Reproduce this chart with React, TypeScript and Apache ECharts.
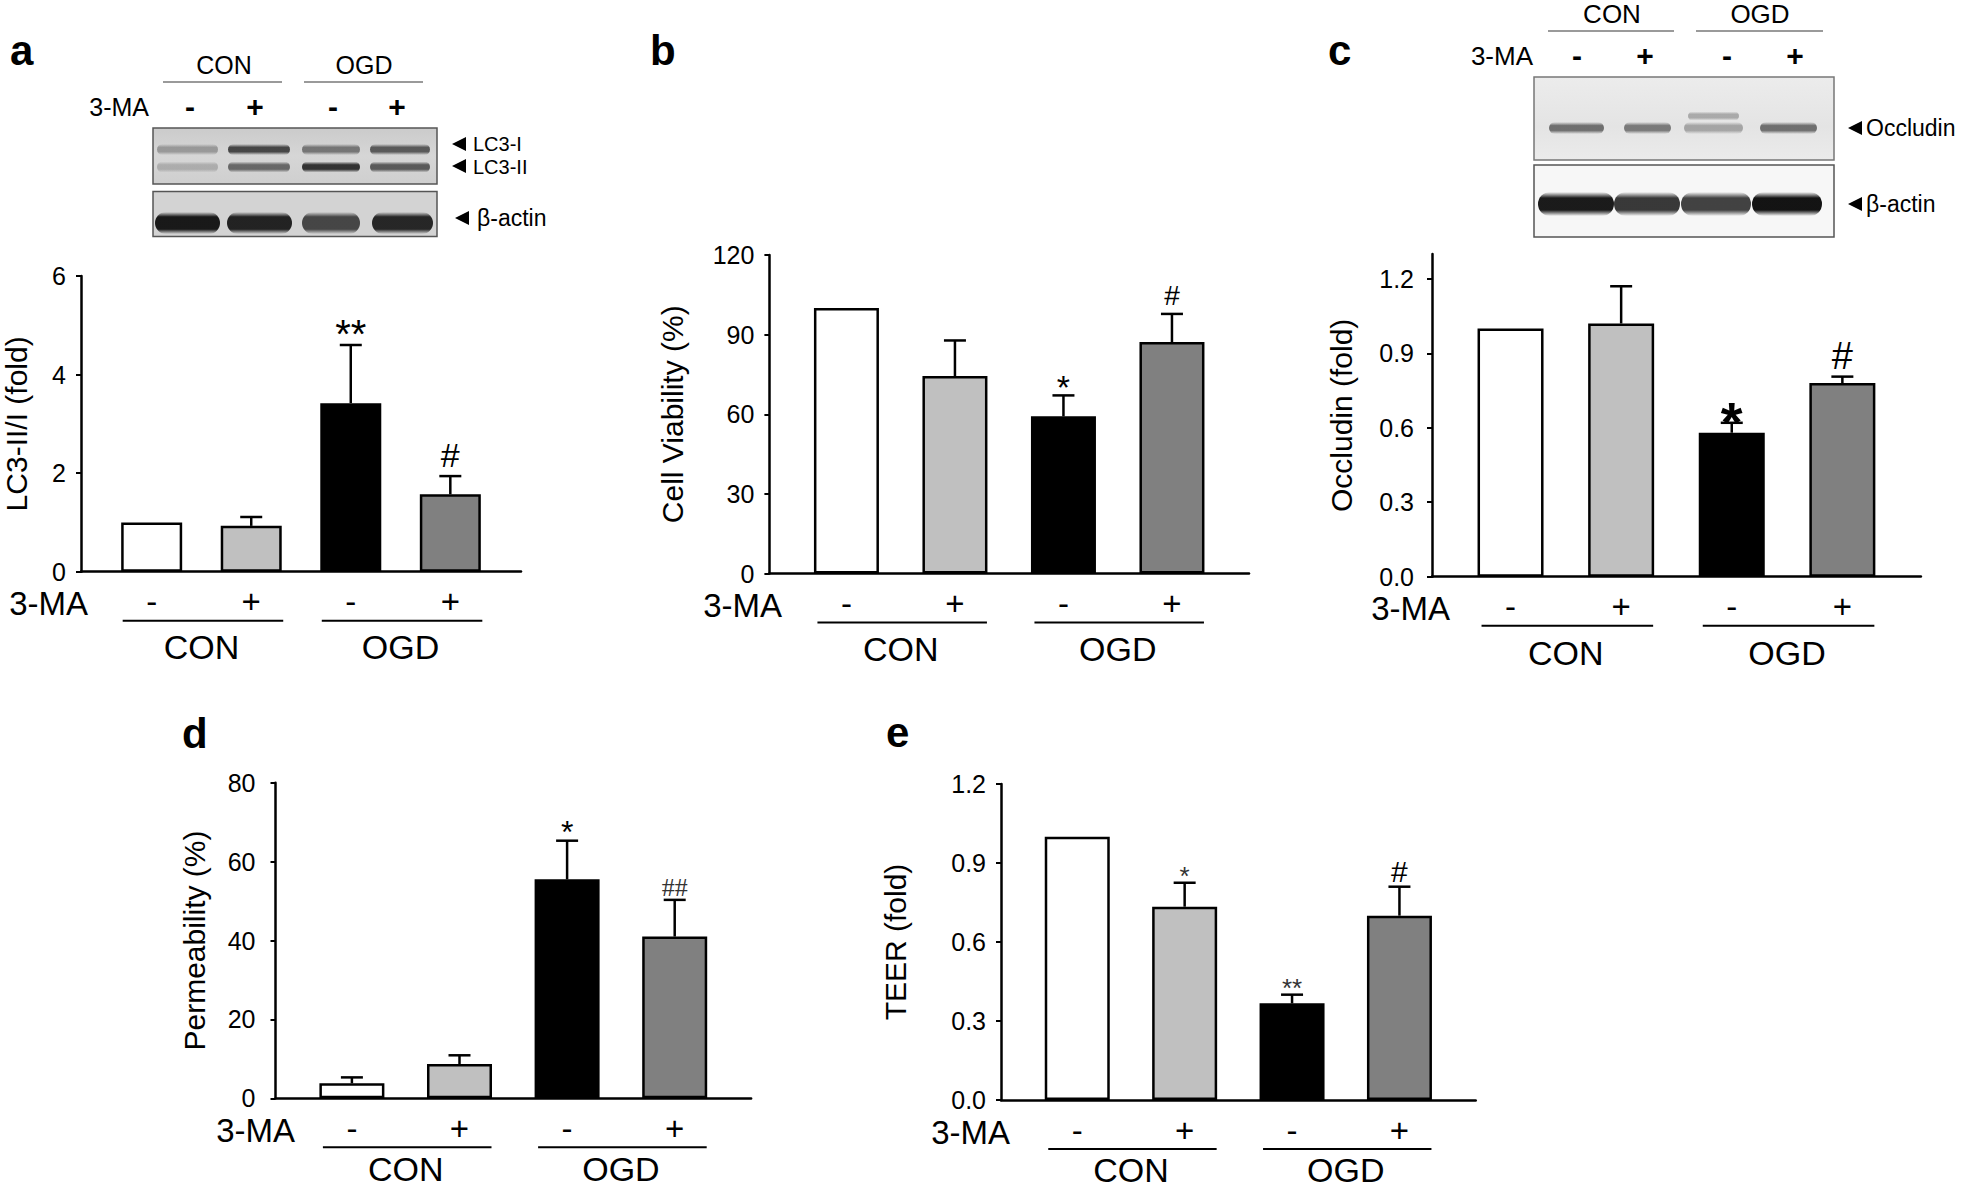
import React, { useEffect, useRef } from 'react';
import * as echarts from 'echarts';

const FONT = '"Liberation Sans", Arial, Helvetica, sans-serif';
const SERIF = '"Liberation Serif", "Times New Roman", serif';

// ---- shared categories ----
const X_POS = [1, 2, 3, 4];
const TREATMENT = ['-', '+', '-', '+'];
const GROUPS = ['CON', 'OGD'];
const GROUP_MEMBERS = [[1, 2], [3, 4]];
const BAR_FILL = ['#ffffff', '#c0c0c0', '#000000', '#808080'];

// ---- a: LC3-II/I ----
const LC3_VALUES = [1.0, 0.93, 3.42, 1.57];
const LC3_ERR_TOP = [null, 1.11, 4.6, 1.94];
const LC3_MARKS = ['', '', '**', '#'];
const LC3_TICKS = [0, 2, 4, 6];

// ---- b: Cell viability ----
const VIAB_VALUES = [100, 74.4, 59.2, 87.2];
const VIAB_ERR_TOP = [null, 87.8, 67.1, 97.8];
const VIAB_MARKS = ['', '', '*', '#'];
const VIAB_TICKS = [0, 30, 60, 90, 120];

// ---- c: Occludin ----
const OCC_VALUES = [1.0, 1.02, 0.58, 0.78];
const OCC_ERR_TOP = [null, 1.17, 0.62, 0.806];
const OCC_MARKS = ['', '', '*', '#'];
const OCC_TICKS = [0, 0.3, 0.6, 0.9, 1.2];

// ---- d: Permeability ----
const PERM_VALUES = [3.8, 8.7, 55.5, 41.0];
const PERM_ERR_TOP = [5.3, 10.9, 65.3, 50.3];
const PERM_MARKS = ['', '', '*', '##'];
const PERM_TICKS = [0, 20, 40, 60, 80];

// ---- e: TEER ----
const TEER_VALUES = [1.0, 0.734, 0.367, 0.7];
const TEER_ERR_TOP = [null, 0.825, 0.4, 0.81];
const TEER_MARKS = ['', '*', '**', '#'];
const TEER_TICKS = [0, 0.3, 0.6, 0.9, 1.2];

// ---- western blot band darkness (0..1) per lane ----
const LC3I_BAND = [0.3, 0.72, 0.48, 0.62];
const LC3II_BAND = [0.2, 0.55, 0.82, 0.62];
const ACTIN_A_BAND = [0.95, 0.9, 0.72, 0.88];
const OCC_BAND = [0.55, 0.5, 0.3, 0.55];
const OCC_UPPER_BAND = [0, 0, 0.28, 0];
const ACTIN_C_BAND = [0.95, 0.82, 0.78, 0.98];

const X_MIN = 0.29;
const X_MAX = 4.71;

type MarkStyle = { size: number; family: string; weight: string; color: string; gap: number };

const ms = (size: number, gap: number, extra: Partial<MarkStyle> = {}): MarkStyle => ({
  size,
  gap,
  family: FONT,
  weight: 'normal',
  color: '#000',
  ...extra,
});

const PANELS = [
  {
    letter: 'a', letterX: 10, letterY: 50,
    values: LC3_VALUES, errTop: LC3_ERR_TOP, marks: LC3_MARKS, ticks: LC3_TICKS,
    max: 6, decimals: 0, yName: 'LC3-II/I (fold)',
    grid: { left: 80, top: 276, width: 441, height: 295.7 },
    barWidth: 61, nameGap: 50, labelMargin: 15, maRight: 88, groupDy: 75,
    markStyle: [null, null, ms(40, 20), ms(34, 21)],
  },
  {
    letter: 'b', letterX: 650, letterY: 50,
    values: VIAB_VALUES, errTop: VIAB_ERR_TOP, marks: VIAB_MARKS, ticks: VIAB_TICKS,
    max: 120, decimals: 0, yName: 'Cell Viability (%)',
    grid: { left: 769.4, top: 255, width: 479.6, height: 318.5 },
    barWidth: 65, nameGap: 82, labelMargin: 15, maRight: 782, groupDy: 75,
    markStyle: [null, null, ms(34, 16), ms(28, 18)],
  },
  {
    letter: 'c', letterX: 1328, letterY: 50,
    values: OCC_VALUES, errTop: OCC_ERR_TOP, marks: OCC_MARKS, ticks: OCC_TICKS,
    max: 1.3, decimals: 1, yName: 'Occludin (fold)',
    grid: { left: 1432, top: 254, width: 488.9, height: 322.7 },
    barWidth: 66, nameGap: 76, labelMargin: 18, maRight: 1450, groupDy: 76,
    markStyle: [null, null, ms(56, 14, { weight: 'bold' }), ms(38, 21)],
  },
  {
    letter: 'd', letterX: 182, letterY: 733,
    values: PERM_VALUES, errTop: PERM_ERR_TOP, marks: PERM_MARKS, ticks: PERM_TICKS,
    max: 80, decimals: 0, yName: 'Permeability (%)',
    grid: { left: 275.5, top: 782.7, width: 475.6, height: 315.6 },
    barWidth: 65, nameGap: 66, labelMargin: 20, maRight: 295, groupDy: 71,
    markStyle: [null, null, ms(32, 16), ms(26, 12, { family: SERIF, color: '#333' })],
  },
  {
    letter: 'e', letterX: 886, letterY: 732,
    values: TEER_VALUES, errTop: TEER_ERR_TOP, marks: TEER_MARKS, ticks: TEER_TICKS,
    max: 1.2, decimals: 1, yName: 'TEER (fold)',
    grid: { left: 1001, top: 784, width: 474.7, height: 316 },
    barWidth: 65, nameGap: 91, labelMargin: 15, maRight: 1010, groupDy: 70,
    markStyle: [null, ms(26, 13, { color: '#333' }), ms(26, 13, { color: '#333' }), ms(30, 15)],
  },
];

const CAP_HALF = 11;

function band(x1: number, x2: number, cy: number, h: number, d: number, core = 0.3) {
  const a = Math.max(0, Math.min(1, d));
  return {
    type: 'rect',
    shape: { x: x1, y: cy - h / 2, width: x2 - x1, height: h, r: h / 2 },
    style: {
      fill: new echarts.graphic.LinearGradient(0, 0, 0, 1, [
        { offset: 0, color: 'rgba(15,15,15,0)' },
        { offset: core, color: `rgba(15,15,15,${a})` },
        { offset: 1 - core, color: `rgba(15,15,15,${a})` },
        { offset: 1, color: 'rgba(15,15,15,0)' },
      ]),
    },
    silent: true,
  };
}

function txt(x: number, y: number, text: string, size: number, extra: any = {}) {
  return {
    type: 'text',
    x,
    y,
    silent: true,
    style: {
      text,
      fontSize: size,
      fontFamily: FONT,
      fill: '#000',
      align: 'center',
      verticalAlign: 'middle',
      ...extra,
    },
  };
}

function hline(x1: number, x2: number, y: number, color = '#000', w = 2) {
  return { type: 'line', silent: true, shape: { x1, y1: y, x2, y2: y }, style: { stroke: color, lineWidth: w } };
}

function arrow(tipX: number, y: number) {
  return {
    type: 'polygon',
    silent: true,
    shape: { points: [[tipX, y], [tipX + 14, y - 7], [tipX + 14, y + 7]] },
    style: { fill: '#000' },
  };
}

function blotGraphics() {
  const g: any[] = [];
  // ---- panel a header ----
  g.push(txt(224, 65, GROUPS[0], 25));
  g.push(txt(364, 65, GROUPS[1], 25));
  g.push(hline(163, 282, 82, '#9a9a9a', 2));
  g.push(hline(304, 423, 82, '#9a9a9a', 2));
  g.push(txt(149, 107, '3-MA', 25, { align: 'right' }));
  [190, 255, 333, 397].forEach((x, i) => g.push(txt(x, 106, TREATMENT[i], 30, { fontWeight: 'bold' })));
  g.push({
    type: 'rect', silent: true,
    shape: { x: 153, y: 128, width: 284, height: 56 },
    style: {
      fill: new echarts.graphic.LinearGradient(0, 0, 0, 1, [
        { offset: 0, color: '#cbcbcb' },
        { offset: 0.5, color: '#d6d6d6' },
        { offset: 1, color: '#cfcfcf' },
      ]),
      stroke: '#555', lineWidth: 1.5,
    },
  });
  const lanesA = [[157, 218], [228, 290], [302, 360], [370, 430]];
  lanesA.forEach(([x1, x2], i) => {
    g.push(band(x1, x2, 149.5, 11, LC3I_BAND[i]));
    g.push(band(x1, x2, 167, 11, LC3II_BAND[i]));
  });
  g.push({
    type: 'rect', silent: true,
    shape: { x: 153, y: 191.5, width: 284, height: 45 },
    style: { fill: '#d3d3d3', stroke: '#555', lineWidth: 1.5 },
  });
  const actinLanesA = [[155, 220], [227, 292], [302, 360], [372, 433]];
  actinLanesA.forEach(([x1, x2], i) => g.push(band(x1, x2, 223, 22, ACTIN_A_BAND[i], 0.22)));
  g.push(arrow(452, 144));
  g.push(txt(473, 144, 'LC3-I', 20, { align: 'left', lineHeight: 18 }));
  g.push(arrow(452, 166));
  g.push(txt(473, 167, 'LC3-II', 20, { align: 'left', lineHeight: 18 }));
  g.push(arrow(455, 218));
  g.push(txt(477, 218, 'β-actin', 23, { align: 'left' }));

  // ---- panel c header ----
  g.push(txt(1612, 14, GROUPS[0], 26));
  g.push(txt(1760, 14, GROUPS[1], 26));
  g.push(hline(1548, 1674, 31, '#9a9a9a', 2));
  g.push(hline(1696, 1823, 31, '#9a9a9a', 2));
  g.push(txt(1533, 56, '3-MA', 26, { align: 'right' }));
  [1577, 1645, 1727, 1795].forEach((x, i) => g.push(txt(x, 55, TREATMENT[i], 30, { fontWeight: 'bold' })));
  g.push({
    type: 'rect', silent: true,
    shape: { x: 1534, y: 77, width: 300, height: 83 },
    style: {
      fill: new echarts.graphic.LinearGradient(0, 0, 0, 1, [
        { offset: 0, color: '#ececec' },
        { offset: 0.6, color: '#e4e4e4' },
        { offset: 1, color: '#ebebeb' },
      ]),
      stroke: '#777', lineWidth: 1.5,
    },
  });
  const lanesC = [[1549, 1604], [1624, 1671], [1684, 1743], [1760, 1817]];
  lanesC.forEach(([x1, x2], i) => {
    g.push(band(x1, x2, 128, 12, OCC_BAND[i]));
    if (OCC_UPPER_BAND[i] > 0) g.push(band(x1 + 4, x2 - 4, 116, 9, OCC_UPPER_BAND[i]));
  });
  g.push({
    type: 'rect', silent: true,
    shape: { x: 1534, y: 165, width: 300, height: 72 },
    style: { fill: '#f7f7f7', stroke: '#555', lineWidth: 1.5 },
  });
  const actinLanesC = [[1538, 1614], [1614, 1680], [1681, 1751], [1752, 1822]];
  actinLanesC.forEach(([x1, x2], i) => g.push(band(x1, x2, 204, 24, ACTIN_C_BAND[i], 0.25)));
  g.push(arrow(1848, 128));
  g.push(txt(1866, 128, 'Occludin', 23, { align: 'left' }));
  g.push(arrow(1848, 204));
  g.push(txt(1866, 204, 'β-actin', 23, { align: 'left' }));
  return g;
}

function buildOption() {
  const grid = PANELS.map((p) => ({ ...p.grid, containLabel: false }));
  const xAxis = PANELS.map((p, i) => ({
    type: 'value',
    gridIndex: i,
    min: X_MIN,
    max: X_MAX,
    splitLine: { show: false },
    axisTick: { show: false },
    axisLine: { show: true, onZero: false, lineStyle: { color: '#000', width: 2.5 } },
    axisLabel: {
      customValues: X_POS,
      formatter: (v: number) => TREATMENT[Math.round(v) - 1] ?? '',
      fontSize: 33,
      lineHeight: 28,
      fontFamily: FONT,
      color: '#000',
      margin: 16,
    },
  }));
  const yAxis = PANELS.map((p, i) => ({
    type: 'value',
    gridIndex: i,
    min: 0,
    max: p.max,
    interval: p.ticks[1] - p.ticks[0],
    splitLine: { show: false },
    axisLine: { show: true, lineStyle: { color: '#000', width: 2.5 } },
    axisTick: { show: true, length: 5, customValues: p.ticks, lineStyle: { color: '#000', width: 2 } },
    axisLabel: {
      customValues: p.ticks,
      formatter: (v: number) => v.toFixed(p.decimals),
      fontSize: 25,
      lineHeight: 22,
      fontFamily: FONT,
      color: '#000',
      margin: p.labelMargin,
    },
    name: p.yName,
    nameLocation: 'middle',
    nameGap: p.nameGap,
    nameTextStyle: { fontSize: 30, fontFamily: FONT, color: '#000' },
  }));
  const series: any[] = [];
  PANELS.forEach((p, i) => {
    series.push({
      type: 'bar',
      xAxisIndex: i,
      yAxisIndex: i,
      barWidth: p.barWidth,
      silent: true,
      itemStyle: { borderColor: '#000', borderWidth: 2.5 },
      data: p.values.map((v, k) => ({ value: [X_POS[k], v], itemStyle: { color: BAR_FILL[k] } })),
      z: 2,
    });
    series.push({
      type: 'custom',
      xAxisIndex: i,
      yAxisIndex: i,
      silent: true,
      clip: false,
      z: 5,
      data: p.values.map((v, k) => [X_POS[k], v]),
      renderItem: (params: any, api: any) => {
        const k = params.dataIndex;
        const x = api.value(0);
        const v = api.value(1);
        const base = api.coord([x, v]);
        const children: any[] = [];
        let anchorY = base[1];
        const top = p.errTop[k];
        if (top != null) {
          const pt = api.coord([x, top]);
          children.push({
            type: 'line',
            shape: { x1: base[0], y1: base[1], x2: pt[0], y2: pt[1] },
            style: { stroke: '#000', lineWidth: 2.5 },
          });
          children.push({
            type: 'line',
            shape: { x1: pt[0] - CAP_HALF, y1: pt[1], x2: pt[0] + CAP_HALF, y2: pt[1] },
            style: { stroke: '#000', lineWidth: 2.5 },
          });
          anchorY = pt[1];
        }
        const m = p.marks[k];
        const st = p.markStyle[k] as MarkStyle | null;
        if (m && st) {
          const isStar = m[0] === '*';
          children.push({
            type: 'text',
            x: base[0],
            y: anchorY - st.gap + (isStar ? 0.225 * st.size : 0),
            style: {
              text: m,
              fontSize: st.size,
              fontFamily: st.family,
              fontWeight: st.weight,
              fill: st.color,
              align: 'center',
              verticalAlign: 'middle',
            },
          });
        }
        return { type: 'group', children };
      },
    });
  });
  return { animation: false, backgroundColor: '#ffffff', grid, xAxis, yAxis, series };
}

export default function App() {
  const ref = useRef<HTMLDivElement>(null);
  useEffect(() => {
    if (!ref.current) return;
    const chart = echarts.init(ref.current, undefined, { renderer: 'svg' });
    chart.setOption(buildOption() as any);

    const g: any[] = blotGraphics();
    PANELS.forEach((p, i) => {
      g.push(txt(p.letterX, p.letterY, p.letter, 42, { fontWeight: 'bold', align: 'left' }));
      const y0 = chart.convertToPixel({ gridIndex: i } as any, [X_MIN, 0]) as number[];
      const baseY = y0[1];
      g.push(txt(p.maRight, baseY + 32, '3-MA', 33, { align: 'right', lineHeight: 28 }));
      GROUP_MEMBERS.forEach((mem, gi) => {
        const a = chart.convertToPixel({ gridIndex: i } as any, [mem[0], 0]) as number[];
        const b = chart.convertToPixel({ gridIndex: i } as any, [mem[1], 0]) as number[];
        g.push(hline(a[0] - 29, b[0] + 32, baseY + 49, '#000', 2));
        g.push(txt((a[0] + b[0]) / 2, baseY + p.groupDy, GROUPS[gi], 34, { lineHeight: 30 }));
      });
    });
    chart.setOption({ graphic: { elements: g } } as any);
    return () => chart.dispose();
  }, []);
  return (
    <div
      ref={ref}
      style={{ position: 'absolute', left: 0, top: 0, width: 1961, height: 1190, background: '#fff' }}
    />
  );
}
